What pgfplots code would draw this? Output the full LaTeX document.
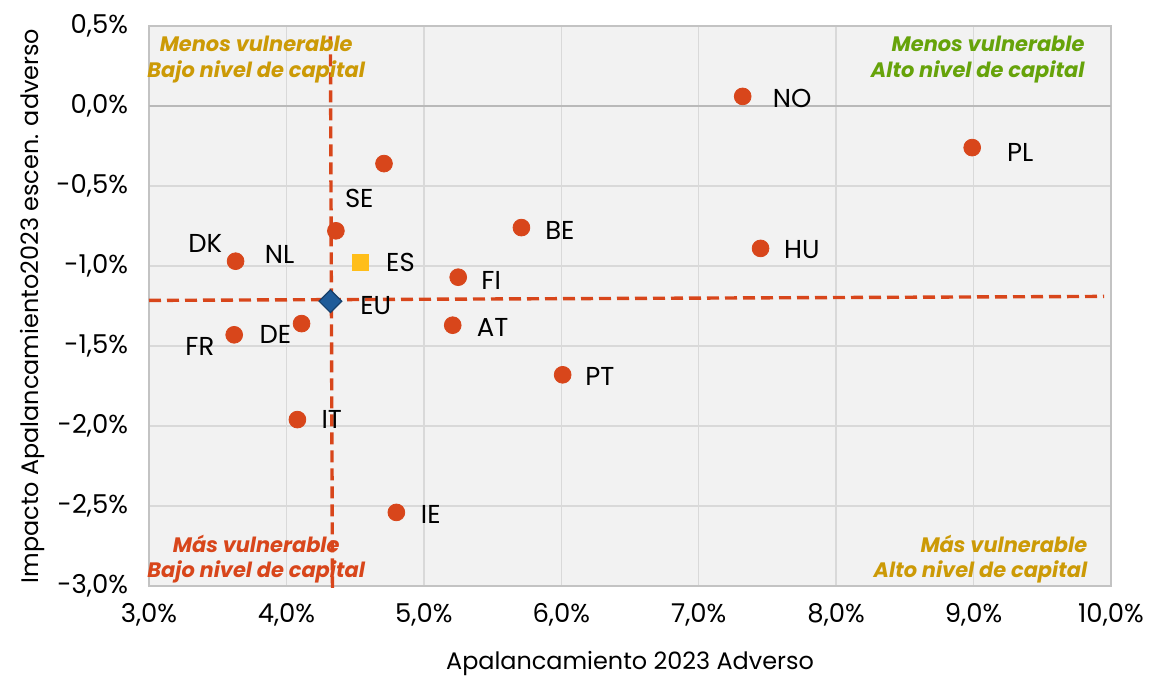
\documentclass[border=0pt]{standalone}
\usepackage{fontspec}
\setmainfont{Poppins}
\usepackage{pgfplots}
\pgfplotsset{compat=1.18}

\definecolor{dotred}{HTML}{D8461B}
\definecolor{quadgold}{HTML}{CC9A06}
\definecolor{quadgreen}{HTML}{66A30A}
\definecolor{esgold}{HTML}{FFBE1A}
\definecolor{eublue}{HTML}{1F5C99}
\definecolor{gridgray}{HTML}{D9D9D9}
\definecolor{bggray}{HTML}{F2F2F2}

% apalancamiento 2023 adverso (%), impacto (%)
\pgfplotstableread{
x     y
7.32  0.06
8.99 -0.26
7.45 -0.89
4.71 -0.36
4.36 -0.78
5.71 -0.76
3.63 -0.97
5.25 -1.07
3.62 -1.43
4.11 -1.36
5.21 -1.37
6.01 -1.68
4.08 -1.96
4.80 -2.54
}\paises

\begin{document}
\begin{tikzpicture}
\begin{axis}[
  scale only axis,
  width=481bp, height=280bp,
  xmin=3, xmax=10, ymin=-3, ymax=0.5,
  xtick={3,4,...,10},
  ytick={-3,-2.5,...,0.5},
  /pgf/number format/assume math mode=true,
  xticklabel={\pgfmathprintnumber[fixed,fixed zerofill,precision=1,use comma]{\tick}\%},
  yticklabel={\pgfmathprintnumber[fixed,fixed zerofill,precision=1,use comma]{\tick}\%},
  tick label style={font=\fontsize{13}{15}\selectfont, black},
  xticklabel style={yshift=-5bp},
  yticklabel style={xshift=-7bp},
  major tick length=0pt,
  grid=major,
  major grid style={gridgray, line width=0.75bp},
  axis line style={gridgray!90!black, line width=0.75bp},
  axis background/.style={fill=bggray},
  clip=false,
  xlabel={Apalancamiento 2023 Adverso},
  ylabel={Impacto Apalancamiento2023 escen. adverso},
  label style={font=\fontsize{12}{14}\selectfont},
  xlabel style={yshift=-6bp},
  ylabel style={yshift=-1bp},
]
% zero line
\addplot[gray!55, line width=0.9bp, forget plot] coordinates {(3,0) (10,0)};

% thresholds
\addplot[dotred, line width=1.7bp, dash pattern=on 6bp off 3bp] coordinates {(3,-1.215) (9.95,-1.19)};
\addplot[dotred, line width=1.7bp, dash pattern=on 6bp off 3bp] coordinates {(4.32,0.435) (4.335,-3.012)};

% countries
\addplot[only marks, mark=*, mark size=4.2bp, mark options={fill=dotred, draw=dotred}] table {\paises};
% ES
\addplot[only marks, mark=square*, mark size=4bp, mark options={fill=esgold, draw=esgold}] coordinates {(4.54,-0.98)};
% EU
\addplot[only marks, mark=square*, mark size=4bp, mark options={rotate=45, fill=eublue, draw=eublue!70!black, line width=0.6bp}] coordinates {(4.32,-1.22)};

% labels
\begin{scope}[every node/.style={font=\fontsize{13}{15}\selectfont, black}]
\node at (axis cs:7.68,0.05) {NO};
\node at (axis cs:9.34,-0.29) {PL};
\node at (axis cs:7.75,-0.90) {HU};
\node at (axis cs:4.53,-0.58) {SE};
\node at (axis cs:5.99,-0.78) {BE};
\node at (axis cs:3.41,-0.86) {DK};
\node at (axis cs:3.95,-0.93) {NL};
\node at (axis cs:4.83,-0.98) {ES};
\node at (axis cs:5.49,-1.09) {FI};
\node at (axis cs:4.65,-1.25) {EU};
\node at (axis cs:3.37,-1.50) {FR};
\node at (axis cs:3.92,-1.43) {DE};
\node at (axis cs:5.50,-1.385) {AT};
\node at (axis cs:6.28,-1.69) {PT};
\node at (axis cs:4.33,-1.96) {IT};
\node at (axis cs:5.05,-2.55) {IE};
\end{scope}

% quadrants
\begin{scope}[every node/.style={font=\fontsize{10.5}{13}\selectfont\bfseries\itshape, inner sep=0pt}]
\node[quadgold, align=center] at (axis cs:3.78,0.292) {Menos vulnerable\\Bajo nivel de capital};
\node[quadgreen, align=right, anchor=east] at (axis cs:9.81,0.292) {Menos vulnerable\\Alto nivel de capital};
\node[dotred, align=center] at (axis cs:3.78,-2.832) {Más vulnerable\\Bajo nivel de capital};
\node[quadgold, align=right, anchor=east] at (axis cs:9.83,-2.832) {Más vulnerable\\Alto nivel de capital};
\end{scope}
\end{axis}
\pgfresetboundingbox
\path[use as bounding box] ([shift={(-74.5bp,-47.5bp)}]current axis.south west) rectangle ([shift={(21bp,13bp)}]current axis.north east);
\end{tikzpicture}
\end{document}
